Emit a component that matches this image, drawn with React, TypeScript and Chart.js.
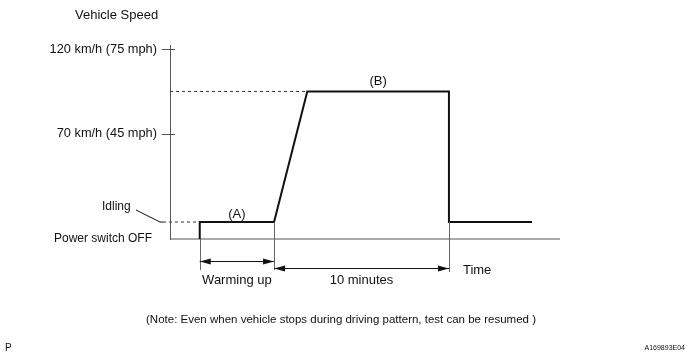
import React, { useEffect, useRef } from "react";
import { Chart, registerables } from "chart.js";

Chart.register(...registerables);

// Time axis (minutes from the y axis), schematic speed levels
const timeMax = 22.3;
const warmStart = 1.7;
const warmEnd = 5.95;
const rampTop = 7.85;
const driveEnd = 15.95; // warmEnd + 10 minutes
const lineEnd = 20.7;

// Speed levels (schematic units): OFF = 0, idling = 10, 70 km/h = 62, 120 km/h = 112
const levelOff = 0;
const levelIdle = 10;
const levelCruise = 87;
const levelMax = 112;

const speedTimes = [warmStart, warmStart, warmEnd, rampTop, driveEnd, driveEnd, lineEnd];
const speedLevels = [levelOff, levelIdle, levelIdle, levelCruise, levelCruise, levelIdle, levelIdle];

const yTickValues = [0, 62, 112];
const yTickLabels = ["", "70 km/h (45 mph)", "120 km/h (75 mph)"];
const yTickMarks = [62, 112];
const offLabel = "Power switch OFF";

const FONT = "'Liberation Sans', Arial, sans-serif";
const INK = "#111";
const AXIS = "#555";

const annotations = {
  id: "annotations",
  afterDraw(chart: any) {
    const ctx = chart.ctx as CanvasRenderingContext2D;
    const xs = chart.scales.x;
    const ys = chart.scales.y;
    const X = (v: number) => xs.getPixelForValue(v);
    const Y = (v: number) => ys.getPixelForValue(v);
    const base = Y(levelOff);
    const axisX = chart.chartArea.left;

    ctx.save();
    // "+" tick marks
    ctx.strokeStyle = AXIS;
    ctx.lineWidth = 1;
    for (const v of yTickMarks) {
      const py = Math.round(Y(v)) + 0.5;
      ctx.beginPath();
      ctx.moveTo(axisX - 8, py);
      ctx.lineTo(axisX + 5, py);
      ctx.stroke();
    }
    ctx.beginPath();
    ctx.moveTo(Math.round(axisX) + 0.5, Y(levelMax) - 4);
    ctx.lineTo(Math.round(axisX) + 0.5, Y(levelMax));
    ctx.stroke();

    // Idling leader line
    const idleY = Y(levelIdle);
    ctx.strokeStyle = INK;
    ctx.beginPath();
    ctx.moveTo(axisX - 34, idleY - 12);
    ctx.lineTo(axisX - 10, idleY);
    ctx.lineTo(axisX - 7, idleY);
    ctx.stroke();

    // dimension lines
    ctx.strokeStyle = "#666";
    const dimBottom = base + 31;
    const dims: [number, number][] = [
      [warmStart, base],
      [warmEnd, idleY],
      [driveEnd, idleY],
    ];
    for (const [t, top] of dims) {
      const px = Math.round(X(t)) + 0.5;
      ctx.beginPath();
      ctx.moveTo(px, top);
      ctx.lineTo(px, dimBottom + (t === driveEnd ? 2 : 0));
      ctx.stroke();
    }

    const arrow = (x1: number, x2: number, y: number) => {
      const py = Math.round(y) + 0.5;
      ctx.strokeStyle = INK;
      ctx.fillStyle = INK;
      ctx.lineWidth = 1;
      ctx.beginPath();
      ctx.moveTo(x1, py);
      ctx.lineTo(x2, py);
      ctx.stroke();
      const head = (tip: number, dir: number) => {
        ctx.beginPath();
        ctx.moveTo(tip, py);
        ctx.lineTo(tip + dir * 11, py - 3);
        ctx.lineTo(tip + dir * 11, py + 3);
        ctx.closePath();
        ctx.fill();
      };
      head(x1, 1);
      head(x2, -1);
    };
    arrow(X(warmStart), X(warmEnd), base + 22);
    arrow(X(warmEnd), X(driveEnd), base + 29);

    // texts
    ctx.fillStyle = INK;
    ctx.textBaseline = "middle";
    ctx.font = `12px ${FONT}`;
    ctx.textAlign = "right";
    ctx.fillText(offLabel, axisX - 18, base);
    ctx.textAlign = "left";
    ctx.fillText("Idling", axisX - 68, idleY - 15);
    ctx.font = `13px ${FONT}`;
    ctx.fillText("Vehicle Speed", 75, 15);
    ctx.fillText("Time", X(driveEnd) + 14, base + 31);
    ctx.textAlign = "center";
    ctx.fillText("(A)", (X(warmStart) + X(warmEnd)) / 2, idleY - 8);
    ctx.fillText("(B)", (X(rampTop) + X(driveEnd)) / 2, Y(levelCruise) - 10);
    ctx.fillText("Warming up", (X(warmStart) + X(warmEnd)) / 2, base + 41);
    ctx.fillText("10 minutes", (X(warmEnd) + X(driveEnd)) / 2, base + 41);
    ctx.font = `11.5px ${FONT}`;
    ctx.fillText(
      "(Note: Even when vehicle stops during driving pattern, test can be resumed )",
      341,
      320
    );
    ctx.textAlign = "left";
    ctx.font = `10px ${FONT}`;
    ctx.fillText("P", 5, 348);
    ctx.textAlign = "right";
    ctx.font = `7px ${FONT}`;
    ctx.fillText("A169893E04", 685, 348);
    ctx.restore();
  },
};

export default function App() {
  const ref = useRef<HTMLCanvasElement | null>(null);
  useEffect(() => {
    document.body.style.margin = "0";
    const canvas = ref.current!;
    const chart = new Chart(canvas, {
      type: "scatter",
      data: {
        datasets: [
          {
            data: speedTimes.map((t, i) => ({ x: t, y: speedLevels[i] })),
            showLine: true,
            borderColor: INK,
            borderWidth: 2,
            pointRadius: 0,
            tension: 0,
            clip: false as any,
            order: 0,
            borderJoinStyle: "miter",
          },
          {
            data: [
              { x: 0, y: levelOff },
              { x: timeMax, y: levelOff },
            ],
            showLine: true,
            borderColor: AXIS,
            borderWidth: 1,
            pointRadius: 0,
            clip: false as any,
            order: 2,
          },
          {
            data: [
              { x: 0, y: levelCruise },
              { x: rampTop, y: levelCruise },
            ],
            showLine: true,
            borderColor: "#333",
            borderWidth: 1,
            borderDash: [3, 3],
            pointRadius: 0,
            clip: false as any,
            order: 1,
          },
          {
            data: [
              { x: -0.4, y: levelIdle },
              { x: warmStart, y: levelIdle },
            ],
            showLine: true,
            borderColor: "#333",
            borderWidth: 1,
            borderDash: [3, 3],
            pointRadius: 0,
            clip: false as any,
            order: 1,
          },
        ],
      },
      options: {
        responsive: false,
        animation: false,
        events: [],
        layout: { padding: { top: 49, right: 129, bottom: 124, left: 0 } },
        plugins: { legend: { display: false }, tooltip: { enabled: false } },
        scales: {
          x: { type: "linear", min: 0, max: timeMax, display: false },
          y: {
            type: "linear",
            min: 0,
            max: levelMax,
            afterFit: (s: any) => {
              s.width = 170;
            },
            afterBuildTicks: (s: any) => {
              s.ticks = yTickValues.map((v) => ({ value: v }));
            },
            ticks: {
              autoSkip: false,
              padding: 13,
              color: INK,
              font: { family: FONT, size: 12.8 },
              callback: (v: any) => {
                const i = yTickValues.indexOf(Number(v));
                return i >= 0 ? yTickLabels[i] : "";
              },
            },
            grid: { display: false, drawTicks: false },
            border: { display: true, color: AXIS, width: 1 },
          },
        },
      },
      plugins: [annotations],
    });
    return () => chart.destroy();
  }, []);
  return (
    <div style={{ position: "fixed", left: 0, top: 0, width: 689, height: 363, background: "#fff" }}>
      <canvas ref={ref} width={689} height={363} />
    </div>
  );
}
